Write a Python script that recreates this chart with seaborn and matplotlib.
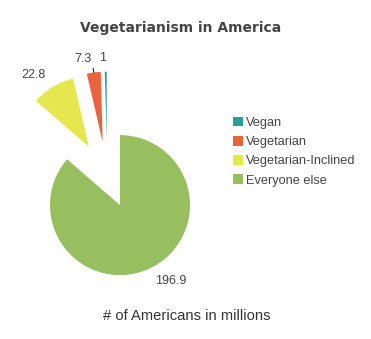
import matplotlib
matplotlib.use("Agg")
import matplotlib.pyplot as plt
import matplotlib.patches as mpatches
import numpy as np
import seaborn as sns

# Millions of Americans per diet group
categories = ["Vegan", "Vegetarian", "Vegetarian-Inclined", "Everyone else"]
values = [1.0, 7.3, 22.8, 196.9]
value_labels = ["1", "7.3", "22.8", "196.9"]
colors = ["#2B9E9A", "#EA623E", "#E6E64E", "#97BE5F"]

sns.set_theme(style="white")
plt.rcParams["font.family"] = ["Liberation Sans", "DejaVu Sans"]

W, H = 371, 339
fig = plt.figure(figsize=(W / 100, H / 100), dpi=100)
fig.patch.set_facecolor("white")

# Pie radius of 1 data unit corresponds to 70 px; centre placed at (107, 177) px
R_PX = 70.0
CX, CY = 107.2, 177.1
ax = fig.add_axes([0, 0, 1, 1])

# Draw clockwise from 12 o'clock: largest slice first
order = [3, 2, 1, 0]
explode_by_cat = {"Vegan": 0.506, "Vegetarian": 0.506,
                  "Vegetarian-Inclined": 0.506, "Everyone else": 0.44}
pie_vals = [values[i] for i in order]
pie_cols = [colors[i] for i in order]
pie_lbls = [value_labels[i] for i in order]
pie_expl = [explode_by_cat[categories[i]] for i in order]

wedges, texts = ax.pie(
    pie_vals, colors=pie_cols, labels=pie_lbls, explode=pie_expl,
    startangle=90, counterclock=False, radius=1.0, labeldistance=1.19,
    wedgeprops=dict(linewidth=0),
    textprops=dict(fontsize=9, color="#444444"),
)

# Short leader tick for the small Vegetarian slice label
w = wedges[order.index(1)]
tm = np.deg2rad(0.5 * (w.theta1 + w.theta2))
cx, cy = w.center
ax.plot([cx + 1.0 * np.cos(tm), cx + 1.06 * np.cos(tm)],
        [cy + 1.0 * np.sin(tm), cy + 1.06 * np.sin(tm)],
        color="#222222", lw=0.8)

ax.set_xlim(-CX / R_PX, (W - CX) / R_PX)
ax.set_ylim(-(H - CY) / R_PX, CY / R_PX)
ax.set_aspect("equal")
ax.axis("off")

fig.text(181 / W, 1 - 28 / H, "Vegetarianism in America", ha="center", va="center",
         fontsize=10, fontweight="bold", color="#444444", family="DejaVu Sans")

fig.text(186.5 / W, 1 - 316 / H, "# of Americans in millions", ha="center", va="center",
         fontsize=10.6, color="#333333")

handles = [mpatches.Patch(facecolor=c, edgecolor="none") for c in colors]
leg = fig.legend(handles, categories, loc="upper left",
                 bbox_to_anchor=(233 / W, 1 - 117 / H), frameon=False,
                 fontsize=9.2, handlelength=0.75, handleheight=0.75,
                 handletextpad=0.25, labelspacing=0.55, borderpad=0, borderaxespad=0)
for t in leg.get_texts():
    t.set_color("#444444")

fig.savefig("out.png", dpi=100, facecolor="white")
